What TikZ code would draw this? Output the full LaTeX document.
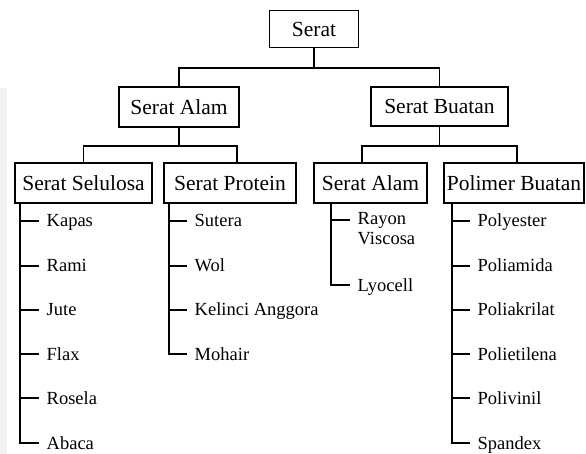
\documentclass[tikz,border=0pt]{standalone}
\usepackage{fontspec}
\setmainfont{Liberation Serif}
\begin{document}
\begin{tikzpicture}[x=1pt,y=-1pt,
  box/.style={draw, line width=1.9pt, inner sep=0pt, text height=14.5pt, text depth=0pt,
    font=\fontsize{21.5}{25}\selectfont, minimum height=40pt},
  item/.style={anchor=west, inner xsep=7.5pt, inner ysep=0pt, text height=12pt, text depth=0pt,
    font=\fontsize{18.5}{21}\selectfont},
  conn/.style={line width=1.9pt}]
\useasboundingbox (0,0) rectangle (586,454);
\fill[black!5] (0,88) rectangle (7,454);
% boxes
\node[box, minimum width=89pt, minimum height=37pt] (serat) at (314,29) {Serat};
\node[box, minimum width=120pt] (alam) at (179,107) {Serat Alam};
\node[box, minimum width=137pt, minimum height=39pt] (buatan) at (439.5,106.5) {Serat Buatan};
\node[box, minimum width=137pt] (sel) at (83.5,183) {Serat Selulosa};
\node[box, minimum width=132pt] (pro) at (230,183) {Serat Protein};
\node[box, minimum width=113pt] (alam2) at (370.5,183) {Serat Alam};
\node[box, minimum width=140pt] (pol) at (514,183) {Polimer Buatan};
% tree connectors
\coordinate (j0) at (314,68);
\coordinate (j1) at (179,146);
\coordinate (j2) at (439.5,146);
\draw[conn] (serat) -- (j0);
\draw[conn] (j0) -| (alam);
\draw[conn] (j0) -| (buatan);
\draw[conn] (alam) -- (j1);
\draw[conn] (buatan) -- (j2);
\draw[conn] (j1) -| (sel);
\draw[conn] (j1) -| (pro.north -| 237,0);
\draw[conn] (j2) -| (alam2.north -| 362,0);
\draw[conn] (j2) -| (pol.north -| 517,0);
% items: Serat Selulosa
\coordinate (s1) at (20,203);
\node[item] (kapas) at (39,221) {Kapas};
\node[item] (rami) at (39,266) {Rami};
\node[item] (jute) at (39,310) {Jute};
\node[item] (flax) at (39,354) {Flax};
\node[item] (rosela) at (39,398) {Rosela};
\node[item] (abaca) at (39,443) {Abaca};
\draw[conn] (s1) |- (abaca.west);
\foreach \n in {kapas,rami,jute,flax,rosela}{\draw[conn] (s1 |- \n.west) -- (\n.west);}
% Serat Protein
\coordinate (s2) at (169,203);
\node[item] (sutera) at (187,221) {Sutera};
\node[item] (wol) at (187,266) {Wol};
\node[item] (kelinci) at (187,310) {Kelinci Anggora};
\node[item] (mohair) at (187,354) {Mohair};
\draw[conn] (s2) |- (mohair.west);
\foreach \n in {sutera,wol,kelinci}{\draw[conn] (s2 |- \n.west) -- (\n.west);}
% Serat Alam (buatan)
\coordinate (s3) at (331,203);
\node[item, anchor=north west, align=left, text height=, text depth=, inner ysep=0pt] (rayon) at (350,212) {Rayon\\[-1pt]Viscosa};
\coordinate (rayonpt) at ([yshift=-8pt]rayon.north west);
\node[item] (lyocell) at (350,285) {Lyocell};
\draw[conn] (s3) |- (lyocell.west);
\draw[conn] (s3 |- rayonpt) -- (rayonpt);
% Polimer Buatan
\coordinate (s4) at (452,203);
\node[item] (polyester) at (470,221) {Polyester};
\node[item] (poliamida) at (470,266) {Poliamida};
\node[item] (poliakrilat) at (470,310) {Poliakrilat};
\node[item] (polietilena) at (470,354) {Polietilena};
\node[item] (polivinil) at (470,398) {Polivinil};
\node[item] (spandex) at (470,443) {Spandex};
\draw[conn] (s4) |- (spandex.west);
\foreach \n in {polyester,poliamida,poliakrilat,polietilena,polivinil}{\draw[conn] (s4 |- \n.west) -- (\n.west);}
\end{tikzpicture}
\end{document}
